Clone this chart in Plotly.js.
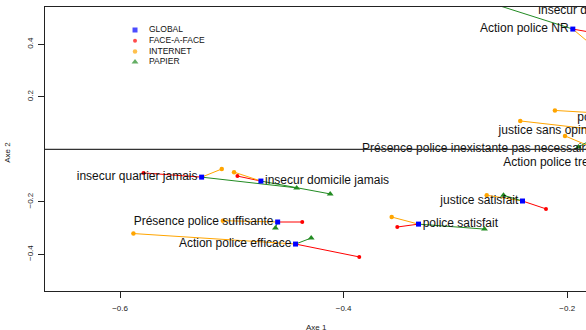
<!DOCTYPE html>
<html><head><meta charset="utf-8">
<script src="https://cdn.plot.ly/plotly-3.0.1.min.js"></script>
<style>html,body{margin:0;padding:0;background:#fff;overflow:hidden}</style>
</head><body><div id="chart" style="width:586px;height:330px"></div>
<script>
// ---- data ----
const categories = [
  "insecur quartier jamais", "insecur domicile jamais", "Présence police suffisante",
  "Action police efficace", "police satisfait", "justice satisfait", "Action police NR",
  "insecur domicile parfois", "police sans opinion", "justice sans opinion",
  "Présence police inexistante pas necessaire", "Action police tres efficace"
];
const globalX   = [-0.527, -0.474, -0.459, -0.443, -0.333, -0.240, -0.195, -0.110, -0.096, -0.164, -0.174, -0.132];
const globalY   = [-0.106, -0.121, -0.277, -0.361, -0.285, -0.197,  0.458,  0.527,  0.119,  0.070,  0.001, -0.052];
const faceX     = [-0.579, -0.495, -0.437, -0.386, -0.352, -0.219, -0.135, -0.080, -0.070, -0.140, -0.150, -0.100];
const faceY     = [-0.090, -0.102, -0.277, -0.410, -0.296, -0.227,  0.413,  0.500,  0.100,  0.060, -0.010, -0.070];
const internetX = [-0.509, -0.498, -0.508, -0.588, -0.357, -0.272, -0.162, -0.090, -0.211, -0.242, -0.202, -0.120];
const internetY = [-0.075, -0.087, -0.272, -0.321, -0.258, -0.175,  0.340,  0.560,  0.148,  0.108,  0.051, -0.030];
const papierX   = [-0.442, -0.412, -0.461, -0.429, -0.274, -0.257, -0.305, -0.065, -0.050, -0.190, -0.160, -0.110];
const papierY   = [-0.147, -0.170, -0.300, -0.338, -0.304, -0.175,  0.607,  0.515,  0.135,  0.009,  0.030, -0.060];
const seriesNames = ["GLOBAL", "FACE-A-FACE", "INTERNET", "PAPIER"];
const xTicks = [-0.6, -0.4, -0.2];
const yTicks = [-0.4, -0.2, 0.2, 0.4];
const xTitle = "Axe 1";
const yTitle = "Axe 2";

// ---- styles ----
const colors  = ["#0000FF", "#FF0000", "#FFA500", "#228B22"];
const symbols = ["square", "circle", "circle", "triangle-up"];
const sizes   = [5, 4, 4.5, 6];
const labelSide = ["middle left", "middle right", "middle left", "middle left", "middle right", "middle left",
  "middle left", "middle left", "middle left", "middle left", "middle left", "middle left"];
const FONT = "Liberation Sans, Arial, Helvetica, sans-serif";

function segs(vx, vy) {
  const x = [], y = [];
  for (let i = 0; i < categories.length; i++) {
    x.push(globalX[i], vx[i], null);
    y.push(globalY[i], vy[i], null);
  }
  return {x, y};
}
const variants = [[faceX, faceY], [internetX, internetY], [papierX, papierY]];
const traces = [];
variants.forEach((v, k) => {
  const s = segs(v[0], v[1]);
  traces.push({type: "scatter", mode: "lines", x: s.x, y: s.y,
    line: {color: colors[k + 1], width: 1}, hoverinfo: "skip"});
});
variants.forEach((v, k) => {
  traces.push({type: "scatter", mode: "markers", x: v[0], y: v[1], name: seriesNames[k + 1],
    marker: {color: colors[k + 1], symbol: symbols[k + 1], size: sizes[k + 1], line: {width: 0}}});
});
traces.push({type: "scatter", mode: "markers+text", x: globalX, y: globalY, text: categories,
  name: seriesNames[0], textposition: labelSide,
  textfont: {family: FONT, size: 12, color: "#111"},
  marker: {color: colors[0], symbol: symbols[0], size: sizes[0], line: {width: 0}}});

// legend drawn on an overlay axis (fractions of plot area)
const legX = 0.1664, legTextX = 0.1922, legY0 = 0.919, legStep = 0.0377;
const legYs = seriesNames.map((_, i) => legY0 - i * legStep);
traces.push({type: "scatter", mode: "markers", xaxis: "x2", yaxis: "y2",
  x: seriesNames.map(() => legX), y: legYs, hoverinfo: "skip",
  marker: {color: colors, symbol: symbols, size: sizes, line: {width: 0}}});
traces.push({type: "scatter", mode: "text", xaxis: "x2", yaxis: "y2",
  x: seriesNames.map(() => legTextX), y: legYs, text: seriesNames, textposition: "middle right",
  textfont: {family: FONT, size: 8.5, color: "#111"}, hoverinfo: "skip"});

const axisCommon = {showgrid: false, zeroline: false, showline: true, linecolor: "#222", linewidth: 1.2,
  ticks: "outside", ticklen: 6, tickwidth: 1, tickcolor: "#222",
  tickfont: {family: FONT, size: 8, color: "#222"}};

const layout = {
  width: 586, height: 330,
  margin: {l: 45, r: 0, t: 7, b: 39, pad: 0},
  paper_bgcolor: "#fff", plot_bgcolor: "#fff",
  showlegend: false,
  xaxis: Object.assign({}, axisCommon, {range: [-0.6671, -0.1832], tickvals: xTicks,
    ticktext: xTicks.map(v => v.toFixed(1).replace("-", "\u2212")), mirror: true, ticklabelstandoff: 3}),
  yaxis: Object.assign({}, axisCommon, {range: [-0.5398, 0.5421], tickvals: yTicks,
    ticktext: yTicks.map(v => v.toFixed(1).replace("-", "\u2212")), tickangle: -90, ticklabelstandoff: 2}),
  xaxis2: {overlaying: "x", range: [0, 1], visible: false, fixedrange: true},
  yaxis2: {overlaying: "y", range: [0, 1], visible: false, fixedrange: true},
  shapes: [{type: "line", xref: "paper", x0: 0, x1: 1, yref: "y", y0: 0, y1: 0,
    line: {color: "#333", width: 1.3}, layer: "above"}],
  annotations: [
    {text: xTitle, xref: "paper", yref: "paper", x: 0.501, y: -0.127, showarrow: false,
      xanchor: "center", yanchor: "middle", font: {family: FONT, size: 8, color: "#222"}},
    {text: yTitle, xref: "paper", yref: "paper", x: -0.0684, y: 0.49, showarrow: false, textangle: -90,
      xanchor: "center", yanchor: "middle", font: {family: FONT, size: 8, color: "#222"}}
  ]
};
Plotly.newPlot("chart", traces, layout, {staticPlot: true, displayModeBar: false});
</script></body></html>
